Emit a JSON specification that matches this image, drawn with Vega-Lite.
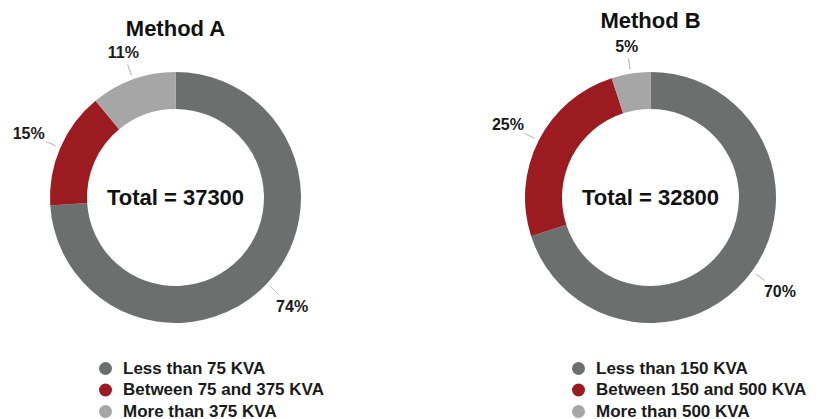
{
  "$schema": "https://vega.github.io/schema/vega-lite/v6.json",
  "padding": {"left": 5, "top": 10, "right": 0, "bottom": 0},
  "spacing": 134,
  "background": "white",
  "config": {
    "view": {"stroke": null},
    "font": "Liberation Sans",
    "title": {"fontSize": 22, "fontWeight": "bold", "color": "#111111", "font": "Liberation Sans", "offset": -2},
    "legend": {
      "orient": "none",
      "title": null,
      "symbolType": "circle",
      "symbolSize": 169,
      "symbolStrokeWidth": 0,
      "labelFontSize": 17,
      "labelFontWeight": "bold",
      "labelFont": "Liberation Sans",
      "labelColor": "#1a1a1a",
      "labelOffset": 9,
      "labelLimit": 400,
      "rowPadding": 3.5
    }
  },
  "resolve": {"scale": {"color": "independent", "theta": "independent"}, "legend": {"color": "independent"}},
  "hconcat": [
    {
      "width": 341,
      "height": 317,
      "title": {"text": "Method A"},
      "data": {"values": [
        {"k": 1, "category": "Less than 75 KVA", "share": 0.74},
        {"k": 2, "category": "Between 75 and 375 KVA", "share": 0.15},
        {"k": 3, "category": "More than 375 KVA", "share": 0.11}
      ]},
      "layer": [
        {
          "mark": {"type": "arc", "innerRadius": 88.5, "outerRadius": 125.5},
          "encoding": {
            "theta": {"field": "share", "type": "quantitative", "stack": true},
            "order": {"field": "k", "type": "quantitative"},
            "color": {
              "field": "category", "type": "nominal",
              "scale": {"domain": ["Less than 75 KVA", "Between 75 and 375 KVA", "More than 375 KVA"], "range": ["#6b706e", "#9b1b20", "#a6a6a6"]},
              "legend": {"legendX": 92, "legendY": 321}
            }
          }
        },
        {
          "transform": [{"stack": "share", "groupby": [], "sort": [{"field": "k", "order": "ascending"}], "as": ["s0", "s1"]}],
          "mark": {"type": "arc", "innerRadius": 130, "outerRadius": 141, "padAngle": 3, "thetaOffset": 1, "theta2Offset": -1, "stroke": "#c4c4c4", "strokeWidth": 1, "fillOpacity": 0},
          "encoding": {
            "theta": {"field": "s0", "type": "quantitative"},
            "theta2": {"field": "s1"}
          }
        },
        {
          "mark": {"type": "text", "radius": 160, "fontSize": 16, "fontWeight": "bold", "color": "#1a1a1a"},
          "encoding": {
            "theta": {"field": "share", "type": "quantitative", "stack": true},
            "order": {"field": "k", "type": "quantitative"},
            "text": {"field": "share", "type": "quantitative", "format": ".0%"},
            "opacity": {"condition": {"test": "datum.k === 3", "value": 0}, "value": 1}
          }
        },
        {
          "mark": {"type": "text", "radius": 154, "fontSize": 16, "fontWeight": "bold", "color": "#1a1a1a"},
          "encoding": {
            "theta": {"field": "share", "type": "quantitative", "stack": true},
            "order": {"field": "k", "type": "quantitative"},
            "text": {"field": "share", "type": "quantitative", "format": ".0%"},
            "opacity": {"condition": {"test": "datum.k === 3", "value": 1}, "value": 0}
          }
        },
        {
          "data": {"values": [{"total": "Total = 37300"}]},
          "mark": {"type": "text", "fontSize": 22, "fontWeight": "bold", "color": "#111111"},
          "encoding": {"text": {"field": "total", "type": "nominal"}}
        }
      ]
    },
    {
      "width": 341,
      "height": 317,
      "title": {"text": "Method B"},
      "data": {"values": [
        {"k": 1, "category": "Less than 150 KVA", "share": 0.70},
        {"k": 2, "category": "Between 150 and 500 KVA", "share": 0.25},
        {"k": 3, "category": "More than 500 KVA", "share": 0.05}
      ]},
      "layer": [
        {
          "mark": {"type": "arc", "innerRadius": 88.5, "outerRadius": 125.5},
          "encoding": {
            "theta": {"field": "share", "type": "quantitative", "stack": true},
            "order": {"field": "k", "type": "quantitative"},
            "color": {
              "field": "category", "type": "nominal",
              "scale": {"domain": ["Less than 150 KVA", "Between 150 and 500 KVA", "More than 500 KVA"], "range": ["#6b706e", "#9b1b20", "#a6a6a6"]},
              "legend": {"legendX": 90, "legendY": 321}
            }
          }
        },
        {
          "transform": [{"stack": "share", "groupby": [], "sort": [{"field": "k", "order": "ascending"}], "as": ["s0", "s1"]}],
          "mark": {"type": "arc", "innerRadius": 130, "outerRadius": 141, "padAngle": 3, "thetaOffset": 1, "theta2Offset": -1, "stroke": "#c4c4c4", "strokeWidth": 1, "fillOpacity": 0},
          "encoding": {
            "theta": {"field": "s0", "type": "quantitative"},
            "theta2": {"field": "s1"}
          }
        },
        {
          "mark": {"type": "text", "radius": 160, "fontSize": 16, "fontWeight": "bold", "color": "#1a1a1a"},
          "encoding": {
            "theta": {"field": "share", "type": "quantitative", "stack": true},
            "order": {"field": "k", "type": "quantitative"},
            "text": {"field": "share", "type": "quantitative", "format": ".0%"},
            "opacity": {"condition": {"test": "datum.k === 3", "value": 0}, "value": 1}
          }
        },
        {
          "mark": {"type": "text", "radius": 152, "fontSize": 16, "fontWeight": "bold", "color": "#1a1a1a"},
          "encoding": {
            "theta": {"field": "share", "type": "quantitative", "stack": true},
            "order": {"field": "k", "type": "quantitative"},
            "text": {"field": "share", "type": "quantitative", "format": ".0%"},
            "opacity": {"condition": {"test": "datum.k === 3", "value": 1}, "value": 0}
          }
        },
        {
          "data": {"values": [{"total": "Total = 32800"}]},
          "mark": {"type": "text", "fontSize": 22, "fontWeight": "bold", "color": "#111111"},
          "encoding": {"text": {"field": "total", "type": "nominal"}}
        }
      ]
    }
  ]
}
